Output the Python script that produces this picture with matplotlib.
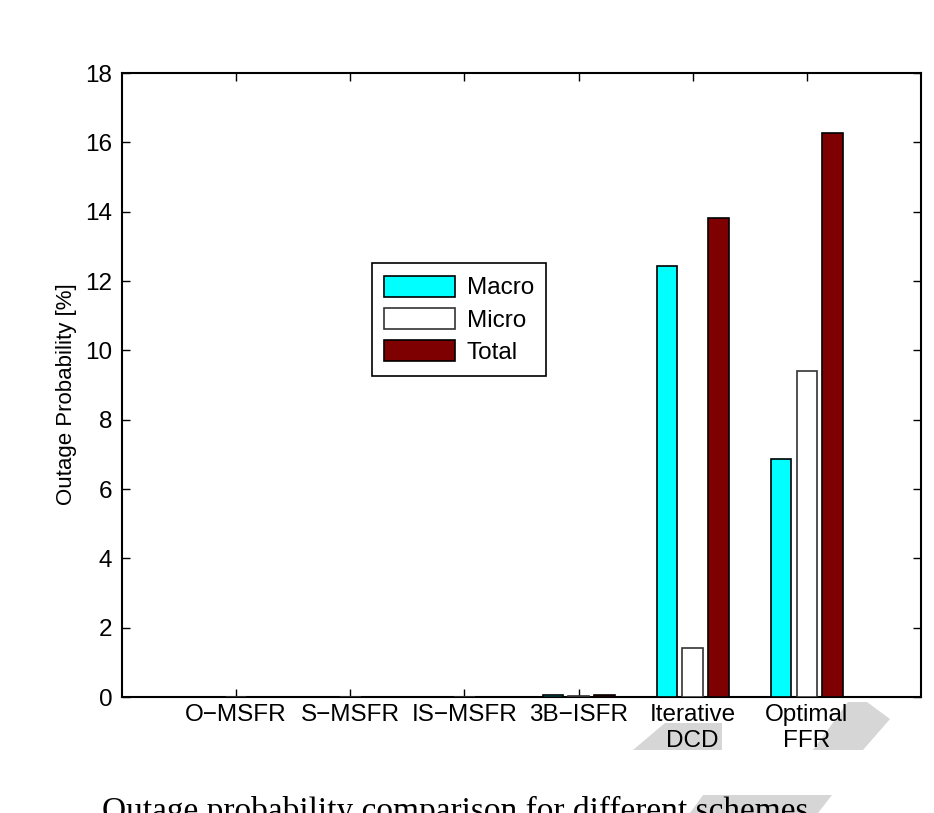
import matplotlib
matplotlib.use("Agg")
import matplotlib.pyplot as plt
import numpy as np
from matplotlib.patches import Polygon

# Données
schemes = ["O\u2212MSFR", "S\u2212MSFR", "IS\u2212MSFR", "3B\u2212ISFR", "Iterative\nDCD", "Optimal\nFFR"]
macro = [0.0, 0.0, 0.0, 0.07, 12.42, 6.87]
micro = [0.0, 0.0, 0.0, 0.02, 1.41, 9.40]
total = [0.0, 0.0, 0.0, 0.06, 13.82, 16.27]
yticks = [0, 2, 4, 6, 8, 10, 12, 14, 16, 18]

W, H = 934, 813
plt.rcParams["font.family"] = ["Liberation Sans", "DejaVu Sans"]

fig = plt.figure(figsize=(W / 100, H / 100), dpi=100)
ax = fig.add_axes([122 / W, 1 - 697 / H, (921 - 122) / W, (697 - 73) / H])

x = np.arange(1, len(schemes) + 1)
off, bw = 0.225, 0.18
ax.bar(x - off, macro, bw, color="#00FFFF", edgecolor="black", linewidth=1.2, label="Macro", zorder=3)
ax.bar(x, micro, bw, color="white", edgecolor="#333333", linewidth=1.2, label="Micro", zorder=3)
ax.bar(x + off, total, bw, color="#7F0000", edgecolor="black", linewidth=1.2, label="Total", zorder=3)

ax.set_xlim(0, 7)
ax.set_ylim(0, 18)
ax.set_yticks(yticks)
ax.set_xticks(x)
ax.set_xticklabels(schemes, fontsize=17.5, linespacing=1.25)
ax.tick_params(axis="y", labelsize=17.5, direction="in", right=True, length=6, width=1, pad=7)
ax.tick_params(axis="x", direction="in", top=True, length=6, width=1, pad=5)
ax.set_ylabel("Outage Probability [%]", fontsize=16, labelpad=6)
ax.yaxis.label.set_y(0.485)
for s in ax.spines.values():
    s.set_linewidth(1.5)

leg = ax.legend(loc="lower left", bbox_to_anchor=(0.313, 0.514), fontsize=17.5,
                handlelength=2.9, handleheight=0.95, handletextpad=0.5,
                labelspacing=0.35, borderpad=0.5, borderaxespad=0,
                fancybox=False, edgecolor="black", framealpha=1)
leg.get_frame().set_linewidth(1.2)


def px(pts):
    return [(a / W, 1 - b / H) for a, b in pts]


# Traces grises du scan (filigrane)
for pts in ([(633, 750), (665, 723), (722, 723), (722, 750)],
            [(848, 702), (867, 702), (890, 719), (863, 750), (813, 750)],
            [(703, 795), (832, 795), (818, 813), (690, 813)]):
    fig.patches.append(Polygon(px(pts), closed=True, transform=fig.transFigure,
                               facecolor="#d6d6d6", edgecolor="none", zorder=-1))

fig.text(102 / W, -7 / H, "Outage probability comparison for different schemes",
         family=["Liberation Serif", "DejaVu Serif"], fontsize=24, va="baseline", ha="left")

fig.savefig("out.png", dpi=100)
